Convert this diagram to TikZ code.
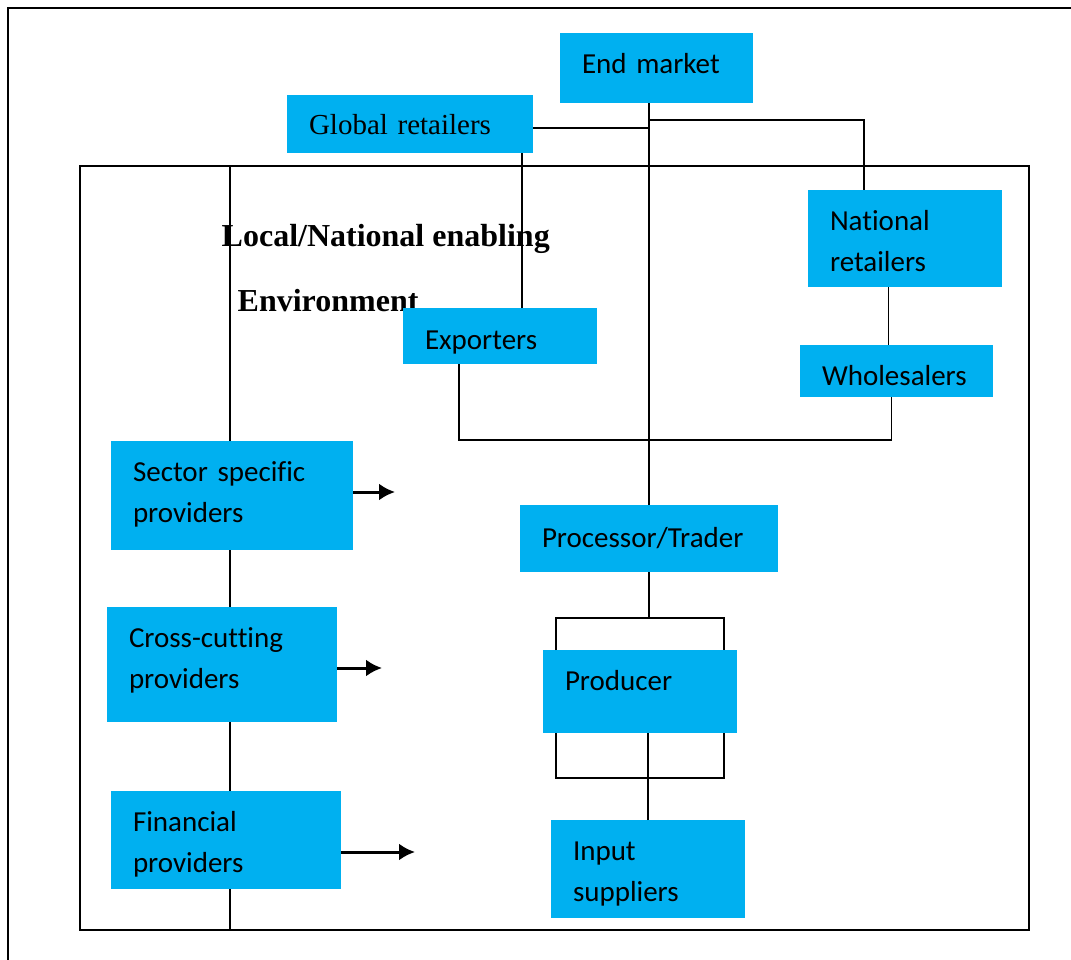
\documentclass[tikz,border=0pt]{standalone}
\usepackage{fontspec}
\setmainfont{Liberation Serif}
\newfontfamily\calibri[Ligatures=NoCommon]{Carlito}
\usetikzlibrary{arrows.meta}
\definecolor{boxblue}{RGB}{0,176,240}

\begin{document}
\begin{tikzpicture}[x=1pt,y=-1pt,line width=1.4pt,
    box/.style 2 args={rectangle,fill=boxblue,anchor=north west,inner xsep=22pt,
      inner ysep=0pt,outer sep=0pt,text width=#1,minimum height=#2,align=left,
      font=\calibri\fontsize{29}{41}\selectfont},
    textpos/.style 2 args={text height=#1,text depth=#2},
    heading/.style={anchor=base west,inner sep=0pt,font=\bfseries\fontsize{32}{38}\selectfont},
    push/.style={-{Latex[length=16pt,width=17pt]},line width=3pt}]
  \useasboundingbox (0,0) rectangle (1071,960);

  % frames
  \draw[line width=2pt] (8,960) -- (8,8) -- (1071,8);
  \draw[line width=2pt] (80,166) rectangle (1029,930);
  \draw (230,166) -- (230,930);

  \node[heading] (enabling) at (221,247) {Local/National enabling};
  \node[heading] (environment) at (237,311) {Environment};

  \node[box={149pt}{70pt},textpos={12pt}{0pt}] (endmarket) at (560,33) {End market};
  \node[box={202pt}{58pt},textpos={21pt}{0pt},font=\fontsize{29}{35}\selectfont] (global) at (287,95) {Global retailers};
  \node[box={150pt}{97pt},textpos={0pt}{15pt}] (national) at (808,190) {National\\retailers};
  \node[box={150pt}{56pt},textpos={27pt}{0pt}] (exporters) at (403,308) {Exporters};
  \node[box={149pt}{52pt},textpos={28pt}{0pt}] (wholesale) at (800,345) {Wholesalers};
  \node[box={214pt}{67pt},textpos={17pt}{0pt}] (processor) at (520,505) {Processor/Trader};
  \node[box={150pt}{83pt},textpos={0pt}{2pt}] (producer) at (543,650) {Producer};
  \node[box={150pt}{98pt},textpos={0pt}{17pt}] (input) at (551,820) {Input\\suppliers};

  \node[box={198pt}{109pt},textpos={0pt}{29pt}] (sector) at (111,441) {Sector specific\\providers};
  \node[box={186pt}{115pt},textpos={0pt}{35pt}] (cross) at (107,607) {Cross-cutting\\providers};
  \node[box={186pt}{98pt},textpos={0pt}{17pt}] (financial) at (111,791) {Financial\\providers};

  % market side
  \draw (processor.north) -- (processor.north |- endmarket.south);
  \coordinate (g) at ([yshift=-4pt]global.east);
  \draw (g) -- (g -| processor.north);
  \coordinate (split) at ([yshift=-17pt]endmarket.south);
  \coordinate (n) at ([xshift=-41pt]national.north);
  \draw (split -| processor.north) -| (n);
  \coordinate (e) at ([xshift=22pt]exporters.north);
  \draw (e) -- (e |- global.south);
  \coordinate (w) at ([xshift=-8pt]wholesale.north);
  \draw (w) -- (w |- national.south);
  \coordinate (e2) at ([xshift=-41pt]exporters.south);
  \coordinate (w2) at ([xshift=-5pt]wholesale.south);
  \coordinate (bar) at ([yshift=-43pt]w2);
  \draw (e2) |- (bar) -- (w2);

  % production side
  \coordinate (topbar) at ([yshift=32pt]producer.north);
  \draw (processor.south) -- (processor.south |- topbar);
  \draw ([xshift=-84pt]producer.north) |- (topbar) -| ([xshift=84pt]producer.north);
  \coordinate (lowbar) at ([yshift=-45pt]producer.south);
  \draw ([xshift=-84pt]producer.south) |- (lowbar) -| ([xshift=84pt]producer.south);
  \draw (input.north) -- (input.north |- producer.south);

  % providers
  \draw[push] ([yshift=3.5pt]sector.east) -- ++(42,0);
  \draw[push] ([yshift=-3.5pt]cross.east) -- ++(45,0);
  \draw[push] ([yshift=-12pt]financial.east) -- ++(74,0);
\end{tikzpicture}
\end{document}
